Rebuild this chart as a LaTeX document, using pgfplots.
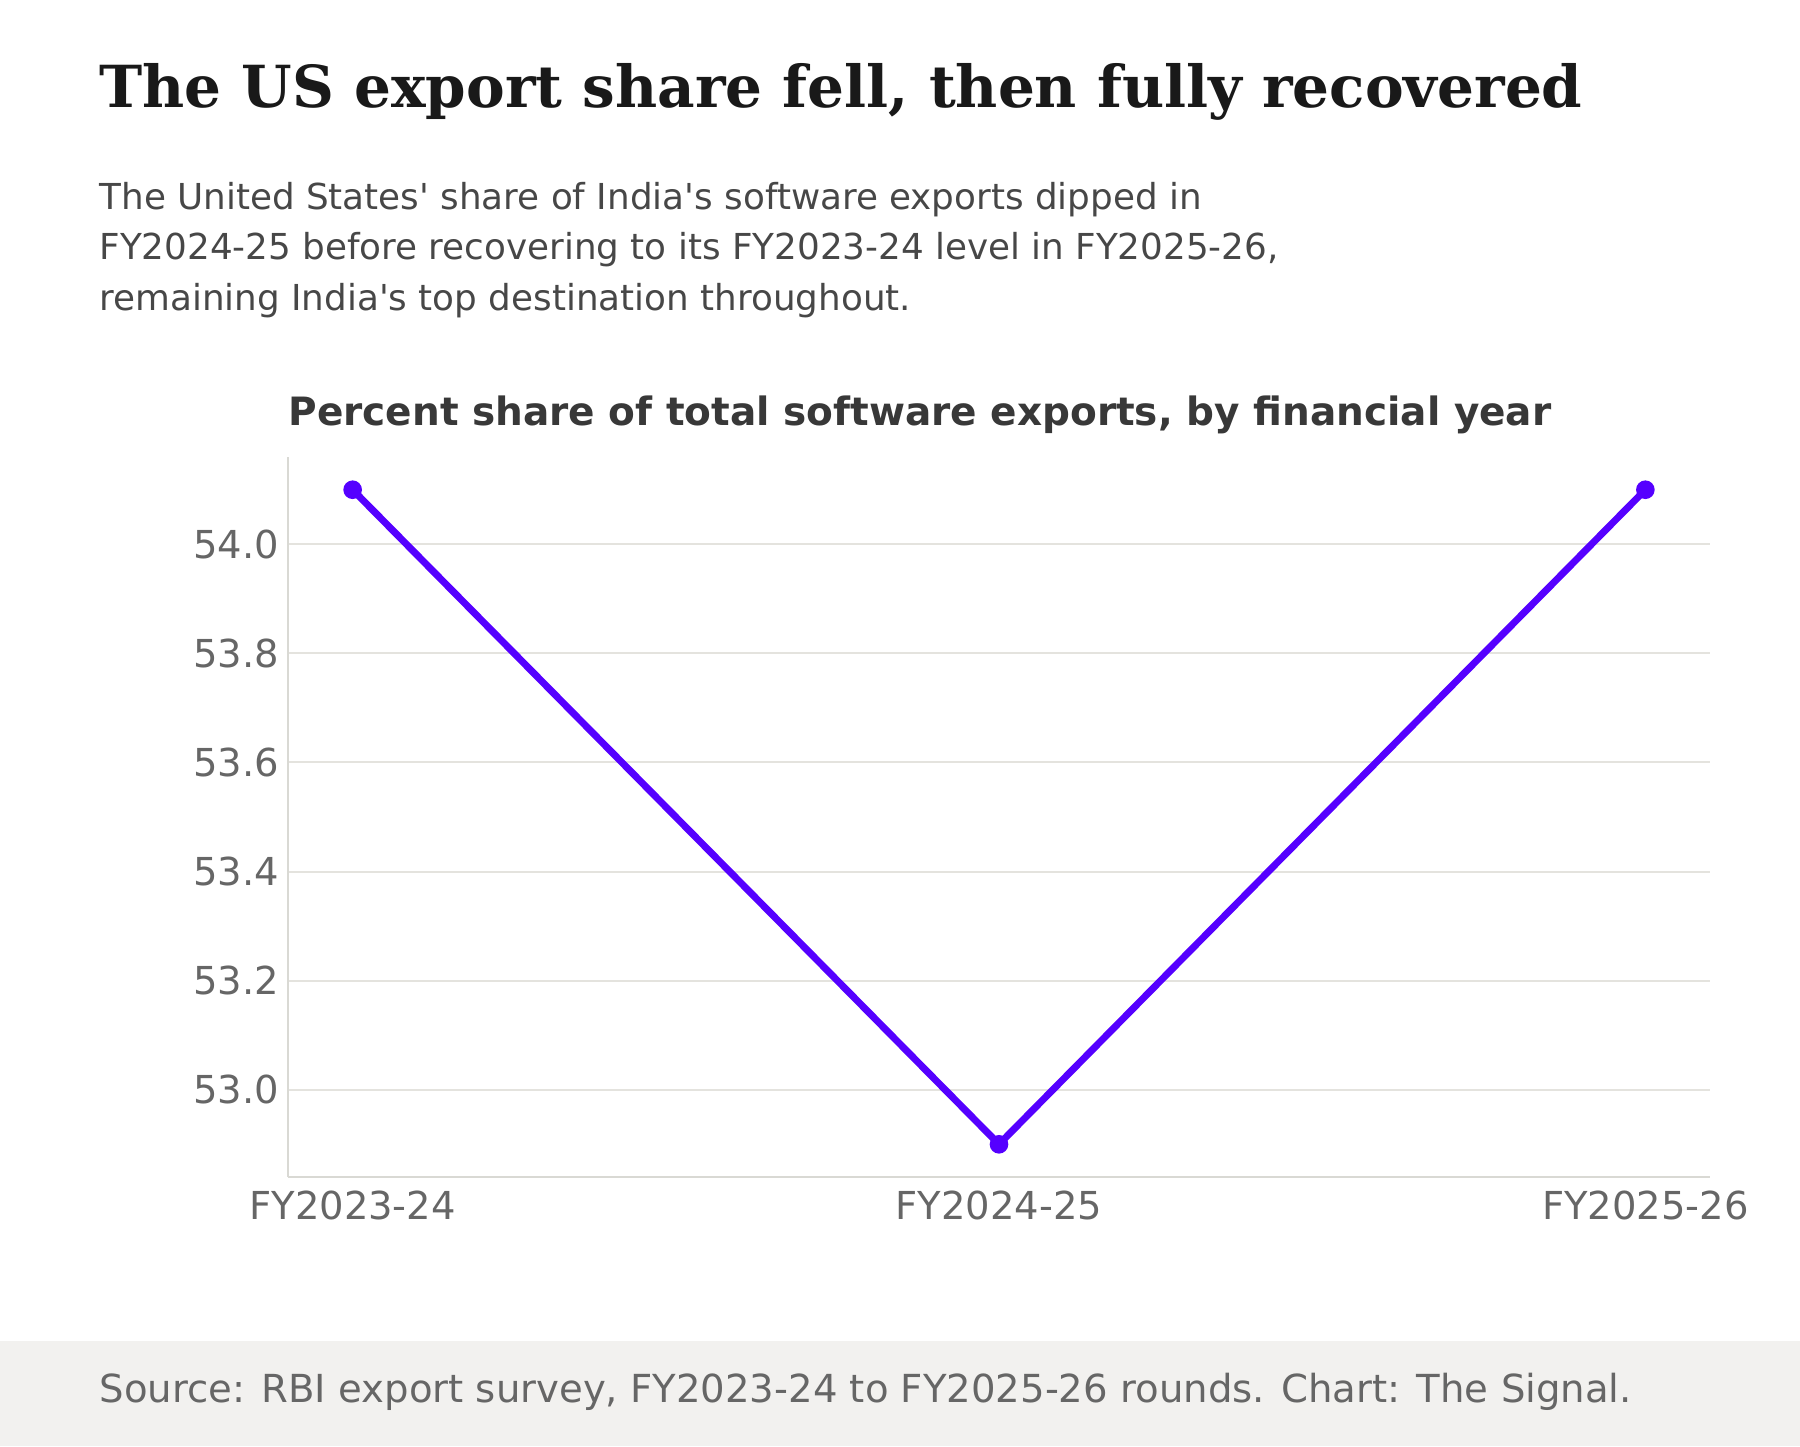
\documentclass[border=0pt]{standalone}
\usepackage{pgfplots}
\pgfplotsset{compat=1.18}
\usepackage{fontspec}
\setmainfont{DejaVu Sans}
\newfontfamily\titlefont{DejaVu Serif}
\definecolor{lineblue}{HTML}{5500FF}
\definecolor{gridgray}{HTML}{E4E3DE}
\definecolor{axisgray}{HTML}{D9D9D4}
\definecolor{tickgray}{HTML}{666666}
\definecolor{footbg}{HTML}{F2F1EF}
% 1 px of the 1800x1446 reference = 0.4pt
\begin{document}
\begin{tikzpicture}
\useasboundingbox (0,0) rectangle (720pt,-578.4pt);
\fill[footbg] (0,-536.4pt) rectangle (720pt,-578.4pt);
\node[anchor=base west,inner sep=0pt,text=black!90] at (39.6pt,-42.8pt)
  {\titlefont\bfseries\fontsize{23.2}{27}\selectfont The US export share fell, then fully recovered};
\node[anchor=base west,inner sep=0pt,text=black!72] at (39.6pt,-83.6pt)
  {\fontsize{14.3}{17}\selectfont The United States\textquotesingle{} share of India\textquotesingle{}s software exports dipped in};
\node[anchor=base west,inner sep=0pt,text=black!72] at (39.6pt,-103.8pt)
  {\fontsize{14.3}{17}\selectfont FY2024-25 before recovering to its FY2023-24 level in FY2025-26,};
\node[anchor=base west,inner sep=0pt,text=black!72] at (39.6pt,-124pt)
  {\fontsize{14.3}{17}\selectfont remaining India\textquotesingle{}s top destination throughout.};
\node[anchor=base west,inner sep=0pt,text=black!78] at (115.2pt,-170pt)
  {\bfseries\fontsize{15.6}{18}\selectfont Percent share of total software exports, by financial year};
\node[anchor=base west,inner sep=0pt,text=tickgray] at (39.6pt,-561pt)
  {\fontsize{15.45}{18}\selectfont Source: RBI export survey, FY2023-24 to FY2025-26 rounds. Chart: The Signal.};
\begin{axis}[
    at={(115.2pt,-470.8pt)}, anchor=south west,
    scale only axis,
    width=568.8pt, height=288pt,
    xmin=-0.1, xmax=2.1,
    ymin=52.84, ymax=54.16,
    axis x line*=bottom, axis y line*=left,
    axis line style={axisgray, line width=0.7pt, -},
    xtick={0,1,2},
    xticklabels={FY2023-24,FY2024-25,FY2025-26},
    ytick={53.0,53.2,53.4,53.6,53.8,54.0},
    yticklabel style={/pgf/number format/fixed,/pgf/number format/fixed zerofill,/pgf/number format/precision=1},
    xticklabel style={yshift=-2pt},
    /pgf/number format/assume math mode=true,
    tick label style={text=tickgray, font=\fontsize{15.4}{18}\selectfont},
    major tick length=0pt,
    ymajorgrids,
    grid style={gridgray, line width=0.8pt},
    clip=false,
]
\addplot[color=lineblue, line width=2.8pt, mark=*, mark size=2.3pt,
    mark options={fill=lineblue, draw=none}]
    coordinates {(0,54.1)(1,52.9)(2,54.1)};
\end{axis}
\end{tikzpicture}
\end{document}
